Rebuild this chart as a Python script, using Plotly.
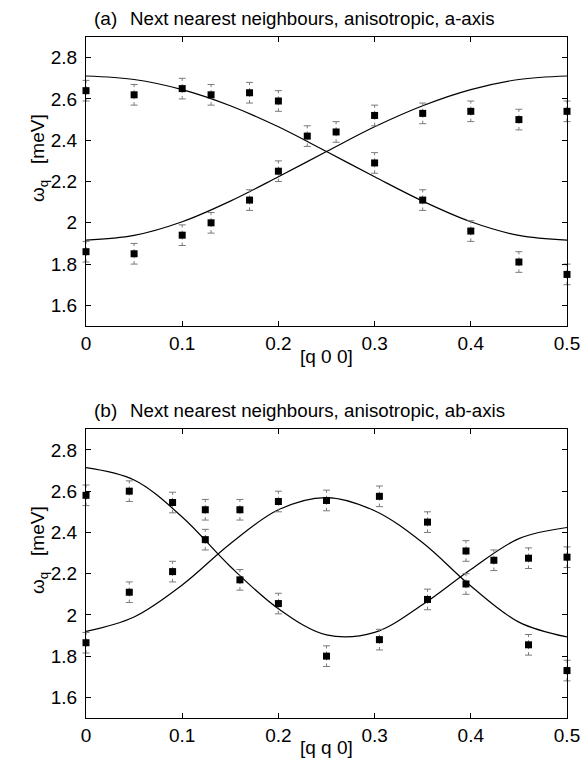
import plotly.graph_objects as go

# ---------------- data: panel (a) [q 0 0] ----------------
q_a_hi = [0.0, 0.05, 0.10, 0.13, 0.17, 0.20, 0.23, 0.26, 0.30, 0.35, 0.40, 0.45, 0.50]
w_a_hi = [2.64, 2.62, 2.65, 2.62, 2.63, 2.59, 2.42, 2.44, 2.52, 2.53, 2.54, 2.50, 2.54]
e_a_hi = [0.05] * 13
q_a_lo = [0.0, 0.05, 0.10, 0.13, 0.17, 0.20, 0.30, 0.35, 0.40, 0.45, 0.50]
w_a_lo = [1.86, 1.85, 1.94, 2.00, 2.11, 2.25, 2.29, 2.11, 1.96, 1.81, 1.75]
e_a_lo = [0.05] * 11

# ---------------- data: panel (b) [q q 0] ----------------
q_b_hi = [0.0, 0.045, 0.09, 0.124, 0.16, 0.20, 0.25, 0.305, 0.355, 0.395, 0.424, 0.46, 0.50]
w_b_hi = [2.58, 2.60, 2.545, 2.51, 2.51, 2.55, 2.555, 2.575, 2.45, 2.31, 2.265, 2.275, 2.28]
e_b_hi = [0.05] * 13
q_b_lo = [0.0, 0.045, 0.09, 0.124, 0.16, 0.20, 0.25, 0.305, 0.355, 0.395, 0.46, 0.50]
w_b_lo = [1.865, 2.11, 2.21, 2.365, 2.17, 2.055, 1.80, 1.88, 2.075, 2.15, 1.855, 1.73]
e_b_lo = [0.05] * 12

# ---------------- model curves ----------------
q_fit = [0.0, 0.05, 0.10, 0.15, 0.20, 0.25, 0.30, 0.35, 0.40, 0.45, 0.50]
a_fit_1 = [2.711, 2.694, 2.645, 2.567, 2.465, 2.345, 2.223, 2.105, 2.005, 1.939, 1.916]
a_fit_2 = [1.916, 1.939, 2.005, 2.105, 2.223, 2.345, 2.465, 2.567, 2.645, 2.694, 2.711]
b_fit_1 = [2.714, 2.654, 2.475, 2.235, 2.030, 1.903, 1.915, 2.050, 2.220, 2.370, 2.424]
b_fit_2 = [1.920, 1.990, 2.145, 2.345, 2.510, 2.569, 2.505, 2.350, 2.140, 1.965, 1.893]

y_ticks = [1.6, 1.8, 2.0, 2.2, 2.4, 2.6, 2.8]
y_tick_text = ["1.6", "1.8", "2", "2.2", "2.4", "2.6", "2.8"]
x_ticks = [0, 0.1, 0.2, 0.3, 0.4, 0.5]
x_tick_text = ["0", "0.1", "0.2", "0.3", "0.4", "0.5"]

FONT = "Liberation Sans"
ERR_COLOR = "#7a7a7a"

fig = go.Figure()


def add_points(q, w, e, xa, ya):
    # dotted error-bar stems
    sx, sy = [], []
    for qi, wi, ei in zip(q, w, e):
        sx += [qi, qi, None]
        sy += [wi - ei, wi + ei, None]
    fig.add_trace(go.Scatter(
        x=sx, y=sy, mode="lines", xaxis=xa, yaxis=ya,
        line=dict(color=ERR_COLOR, width=1, dash="dot"),
        cliponaxis=False, showlegend=False, hoverinfo="skip"))
    # caps
    cx = list(q) + list(q)
    cy = [wi - ei for wi, ei in zip(w, e)] + [wi + ei for wi, ei in zip(w, e)]
    fig.add_trace(go.Scatter(
        x=cx, y=cy, mode="markers", xaxis=xa, yaxis=ya,
        marker=dict(symbol="line-ew-open", size=5, color=ERR_COLOR,
                    line=dict(color=ERR_COLOR, width=1)),
        cliponaxis=False, showlegend=False, hoverinfo="skip"))
    # data points
    fig.add_trace(go.Scatter(
        x=q, y=w, mode="markers", xaxis=xa, yaxis=ya,
        marker=dict(symbol="square", size=7, color="black"),
        cliponaxis=False, showlegend=False))


def add_curve(q, w, xa, ya):
    fig.add_trace(go.Scatter(
        x=q, y=w, mode="lines", xaxis=xa, yaxis=ya,
        line=dict(color="black", width=1.2, shape="spline", smoothing=1.0),
        showlegend=False))


add_curve(q_fit, a_fit_1, "x", "y")
add_curve(q_fit, a_fit_2, "x", "y")
add_points(q_a_hi, w_a_hi, e_a_hi, "x", "y")
add_points(q_a_lo, w_a_lo, e_a_lo, "x", "y")

add_curve(q_fit, b_fit_1, "x2", "y2")
add_curve(q_fit, b_fit_2, "x2", "y2")
add_points(q_b_hi, w_b_hi, e_b_hi, "x2", "y2")
add_points(q_b_lo, w_b_lo, e_b_lo, "x2", "y2")

axis_common = dict(showline=True, linecolor="black", linewidth=1.2, mirror="ticks",
                   ticks="inside", ticklen=5, tickcolor="black", tickwidth=1,
                   showgrid=False, zeroline=False, automargin=False,
                   tickfont=dict(family=FONT, size=19, color="black"))

fig.update_layout(
    width=582, height=774,
    margin=dict(l=86, r=15, t=37, b=56),
    paper_bgcolor="white", plot_bgcolor="white",
    xaxis=dict(domain=[0, 1], range=[0, 0.5], anchor="y",
               tickvals=x_ticks, ticktext=x_tick_text, **axis_common),
    yaxis=dict(domain=[0.5756, 1], range=[1.5, 2.9], anchor="x",
               tickvals=y_ticks, ticktext=y_tick_text, ticklabelstandoff=4, **axis_common),
    xaxis2=dict(domain=[0, 1], range=[0, 0.5], anchor="y2",
                tickvals=x_ticks, ticktext=x_tick_text, **axis_common),
    yaxis2=dict(domain=[0, 0.4239], range=[1.5, 2.9], anchor="x2",
                tickvals=y_ticks, ticktext=y_tick_text, ticklabelstandoff=4, **axis_common),
)

tfont = dict(family=FONT, size=18.7, color="black")
lfont = dict(family=FONT, size=19, color="black")


def py(p):
    # convert pixel y (from top of page) to paper coordinate
    return (718 - p) / 681


def px(p):
    return (p - 86) / 481


annotations = [
    dict(text="(a)", x=px(105), y=py(18), xanchor="center", yanchor="middle", font=lfont),
    dict(text="Next nearest neighbours, anisotropic, a-axis", x=px(128), y=py(18),
         xanchor="left", yanchor="middle", font=tfont),
    dict(text="(b)", x=px(105), y=py(410), xanchor="center", yanchor="middle", font=lfont),
    dict(text="Next nearest neighbours, anisotropic, ab-axis", x=px(128), y=py(410),
         xanchor="left", yanchor="middle", font=tfont),
    dict(text="[q 0 0]", x=px(326.5), y=py(356), xanchor="center", yanchor="middle", font=lfont),
    dict(text="[q q 0]", x=px(326.5), y=py(748), xanchor="center", yanchor="middle", font=lfont),
    dict(text="ω<sub>q</sub>\u00a0\u00a0\u00a0[meV]", x=px(39), y=py(158), textangle=-90,
         xanchor="center", yanchor="middle", font=lfont),
    dict(text="ω<sub>q</sub>\u00a0\u00a0\u00a0[meV]", x=px(39), y=py(550), textangle=-90,
         xanchor="center", yanchor="middle", font=lfont),
]
for a in annotations:
    a.update(xref="paper", yref="paper", showarrow=False)
fig.update_layout(annotations=annotations)

fig.write_html("out.html")
